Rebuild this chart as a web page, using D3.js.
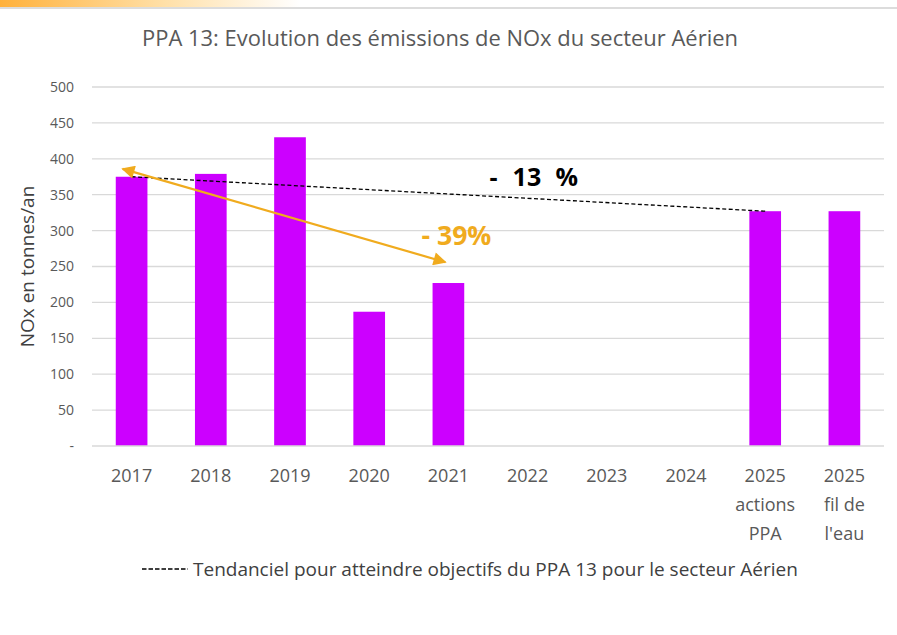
<!DOCTYPE html>
<html>
<head>
<meta charset="utf-8">
<script src="https://cdn.jsdelivr.net/npm/d3@7"></script>
<style>
  body { margin: 0; background: #fff; }
  svg { display: block; font-family: "Open Sans", sans-serif; }
</style>
</head>
<body>
<div id="chart"></div>
<script>
// chart data
const categories = ['2017', '2018', '2019', '2020', '2021', '2022', '2023', '2024', '2025a', '2025f'];
const catLabels = [['2017'], ['2018'], ['2019'], ['2020'], ['2021'], ['2022'], ['2023'], ['2024'],
  ['2025', 'actions', 'PPA'], ['2025', 'fil de', "l'eau"]];
const emissions = [375, 379, 430, 187, 227, null, null, null, 327, 327];
const yTicks = [0, 50, 100, 150, 200, 250, 300, 350, 400, 450, 500];
const trendFrom = { cat: '2017', value: 375 };
const trendTo = { cat: '2025a', value: 327 };
const arrowFrom = { cat: '2017', value: 386 };
const arrowTo = { cat: '2021', value: 256 };

const width = 897, height = 635;
const margin = { top: 87, right: 13, bottom: 189, left: 92 };
const innerW = width - margin.left - margin.right;
const innerH = height - margin.top - margin.bottom;

const svg = d3.select('#chart').append('svg')
  .attr('width', width).attr('height', height);

// top decorative band
const defs = svg.append('defs');
const grad = defs.append('linearGradient').attr('id', 'topband');
grad.append('stop').attr('offset', '0%').attr('stop-color', '#ffb13b');
grad.append('stop').attr('offset', '55%').attr('stop-color', '#ffe0a8');
grad.append('stop').attr('offset', '100%').attr('stop-color', '#ffffff');
svg.append('rect').attr('x', 0).attr('y', 0).attr('width', 300).attr('height', 7).attr('fill', 'url(#topband)');
svg.append('rect').attr('x', 0).attr('y', 7).attr('width', width).attr('height', 2).attr('fill', '#dcdcdc');

const mk = (id, color) => {
  defs.append('marker').attr('id', id)
    .attr('viewBox', '0 0 10 10').attr('refX', 9).attr('refY', 5)
    .attr('markerWidth', 7).attr('markerHeight', 6)
    .attr('markerUnits', 'strokeWidth')
    .attr('orient', 'auto-start-reverse')
    .append('path').attr('d', 'M0,0 L10,5 L0,10 Z').attr('fill', color);
};
mk('arrowOr', '#f0ab1e');

// title
svg.append('text').attr('x', 440).attr('y', 46).attr('text-anchor', 'middle')
  .attr('font-size', 21).attr('fill', '#595959')
  .attr('textLength', 596).attr('lengthAdjust', 'spacingAndGlyphs')
  .text('PPA 13: Evolution des émissions de NOx du secteur Aérien');

const g = svg.append('g').attr('transform', `translate(${margin.left},${margin.top})`);

const x = d3.scaleBand().domain(categories).range([0, innerW]).paddingInner(0.6).paddingOuter(0.3);
const y = d3.scaleLinear().domain([0, 500]).range([innerH, 0]);
const cx = c => x(c) + x.bandwidth() / 2;

// gridlines
g.append('g').selectAll('line').data(yTicks.filter(d => d > 0)).join('line')
  .attr('x1', 0).attr('x2', innerW)
  .attr('y1', d => y(d)).attr('y2', d => y(d))
  .attr('stroke', '#d9d9d9').attr('stroke-width', 1.3);

// y axis labels
const yAxis = g.append('g').call(d3.axisLeft(y).tickValues(yTicks)
  .tickFormat(d => d === 0 ? '-' : d).tickSize(0).tickPadding(18));
yAxis.select('.domain').remove();
yAxis.selectAll('text').attr('font-size', 14).attr('fill', '#595959')
  .attr('font-family', '"Open Sans", sans-serif');

// bars
g.append('g').selectAll('rect').data(categories.map((c, i) => ({ c, v: emissions[i] })).filter(d => d.v != null))
  .join('rect')
  .attr('x', d => x(d.c)).attr('width', x.bandwidth())
  .attr('y', d => y(d.v)).attr('height', d => innerH - y(d.v))
  .attr('fill', '#cc00ff');

// x axis baseline
g.append('line').attr('x1', 0).attr('x2', innerW).attr('y1', innerH).attr('y2', innerH)
  .attr('stroke', '#d9d9d9').attr('stroke-width', 1.3);

// x labels
const xl = g.append('g').selectAll('text').data(categories).join('text')
  .attr('x', d => cx(d)).attr('y', innerH + 36)
  .attr('text-anchor', 'middle').attr('font-size', 18).attr('fill', '#595959');
xl.each(function (d, i) {
  d3.select(this).selectAll('tspan').data(catLabels[i]).join('tspan')
    .attr('x', cx(d)).attr('dy', (t, j) => j === 0 ? 0 : 29).text(t => t);
});

// y axis title
svg.append('text').attr('transform', `translate(34,${margin.top + innerH / 2}) rotate(-90)`)
  .attr('text-anchor', 'middle').attr('font-size', 19).attr('fill', '#404040')
  .text('NOx en tonnes/an');

// trend line
g.append('line')
  .attr('x1', cx(trendFrom.cat)).attr('y1', y(trendFrom.value))
  .attr('x2', cx(trendTo.cat)).attr('y2', y(trendTo.value))
  .attr('stroke', '#000').attr('stroke-width', 1.3).attr('stroke-dasharray', '4,2.5');

// orange double arrow
g.append('line')
  .attr('x1', cx(arrowFrom.cat) - 9).attr('y1', y(arrowFrom.value))
  .attr('x2', cx(arrowTo.cat) - 3).attr('y2', y(arrowTo.value))
  .attr('stroke', '#f0ab1e').attr('stroke-width', 2.2)
  .attr('marker-start', 'url(#arrowOr)').attr('marker-end', 'url(#arrowOr)');

g.append('text').attr('x', cx('2021') - 27).attr('y', y(280))
  .attr('font-size', 26).attr('font-weight', 'bold').attr('fill', '#f0ab1e')
  .attr('textLength', 70).attr('lengthAdjust', 'spacingAndGlyphs')
  .text('- 39%');

const t13 = g.append('text').attr('y', y(362))
  .attr('font-size', 25).attr('font-weight', 'bold').attr('fill', '#000');
const x13 = cx('2022') - 38;
t13.append('tspan').attr('x', x13).text('-');
t13.append('tspan').attr('x', x13 + 23).text('13');
t13.append('tspan').attr('x', x13 + 66).text('%');

// legend
const lg = svg.append('g').attr('transform', 'translate(142,569)');
lg.append('line').attr('x1', 0).attr('x2', 46).attr('y1', 0).attr('y2', 0)
  .attr('stroke', '#000').attr('stroke-width', 1.4).attr('stroke-dasharray', '4.5,2');
lg.append('text').attr('x', 51).attr('y', 6.5).attr('font-size', 19).attr('fill', '#404040')
  .text('Tendanciel pour atteindre objectifs du PPA 13 pour le secteur Aérien');
</script>
</body>
</html>
